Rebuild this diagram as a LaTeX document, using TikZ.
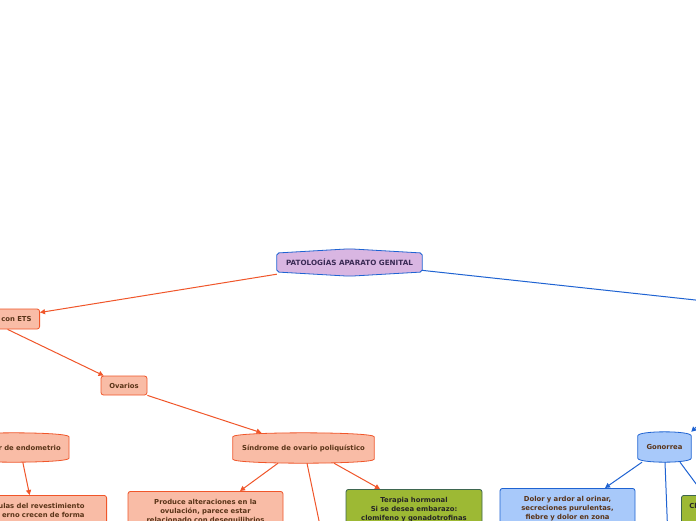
\documentclass[tikz,border=0pt]{standalone}
\usepackage{fontspec}
\setmainfont{DejaVu Sans}
\usetikzlibrary{arrows.meta,backgrounds}
\definecolor{oline}{HTML}{F0562A}
\definecolor{ofill}{HTML}{F9BCA6}
\definecolor{otext}{HTML}{5A3418}
\definecolor{bline}{HTML}{1F63D2}
\definecolor{bfill}{HTML}{A8C9FA}
\definecolor{gfill}{HTML}{9DB934}
\definecolor{gline}{HTML}{3E6650}
\definecolor{pfill}{HTML}{D9B6E2}
\definecolor{ptext}{HTML}{3A2A55}
\newcommand\drumpath[2]{%
\begin{scope}[on background layer]
\draw[#2] ([yshift=-4pt]#1.north west) .. controls ([yshift=1.3pt]#1.north west) and ([yshift=1.3pt]#1.north east) .. ([yshift=-4pt]#1.north east)
 -- ([yshift=4pt]#1.south east) .. controls ([yshift=-1.3pt]#1.south east) and ([yshift=-1.3pt]#1.south west) .. ([yshift=4pt]#1.south west) -- cycle;
\end{scope}}
\begin{document}
\begin{tikzpicture}[x=1pt,y=-1pt,
  font=\fontsize{6.85}{9}\selectfont\bfseries,
  every node/.style={inner sep=0pt},
  obox/.style={draw=oline, fill=ofill, rounded corners=2.5pt, line width=0.8pt, text=otext},
  bbox/.style={draw=bline, fill=bfill, rounded corners=2.5pt, line width=0.8pt, text=otext},
  gbox/.style={draw=gline, fill=gfill, rounded corners=2.5pt, line width=0.8pt, text=black!85},
  multi/.style={inner ysep=7.5pt, align=center, text depth=25pt},
  odrum/.style={draw=oline, fill=ofill, line width=0.8pt},
  bdrum/.style={draw=bline, fill=bfill, line width=0.8pt},
  oarr/.style={draw=oline, line width=1pt, -{Triangle[length=5pt,width=5pt]}},
  barr/.style={draw=bline, line width=1pt, -{Triangle[length=5pt,width=5pt]}}]
\useasboundingbox (0,0) rectangle (696,520);
\clip (0,0) rectangle (696,520);
\begin{scope}[on background layer]
\fill[white] (0,0) rectangle (696,520);
\end{scope}

% root
\node[minimum width=145pt, minimum height=27pt, text=ptext, font=\fontsize{7.2}{9}\selectfont\bfseries] (root) at (349.5,262.5) {PATOLOGÍAS APARATO GENITAL};
\begin{scope}[on background layer]
\draw[draw=bline, fill=pfill, line width=0.8pt, rounded corners=2pt]
 (root.west |- 0,253) -- (root.north) -- (root.east |- 0,253) -- (root.east |- 0,272) -- (root.south) -- (root.west |- 0,272) -- cycle;
\end{scope}

% left branch
\node[obox, anchor=east, minimum width=80pt, minimum height=20pt, inner xsep=8pt, text width=64pt, align=right] (ets) at (40,319) {con ETS};
\node[obox, minimum width=46pt, minimum height=19pt] (ov) at (124,385.5) {Ovarios};
\node[minimum width=110pt, minimum height=29pt, anchor=east, inner xsep=8pt, text width=94pt, align=right, text=otext] (endo) at (69,447.5) {r de endometrio};
\drumpath{endo}{odrum}
\node[obox, anchor=north east, minimum width=167pt, inner xsep=22pt, text width=123pt, inner ysep=7.5pt, align=right, text depth=25pt] (rev) at (107,495) {ulas del revestimiento\\erno crecen de forma};
\node[minimum width=141pt, minimum height=30pt, text=otext] (sin) at (303.5,448) {Síndrome de ovario poliquístico};
\drumpath{sin}{odrum}
\node[obox, multi, anchor=north, minimum width=155pt, text width=145pt] (prod) at (205.5,491) {Produce alteraciones en la\\ovulación, parece estar\\relacionado con desequilibrios};
\node[gbox, multi, anchor=north, minimum width=136pt, text width=130pt] (ter) at (414,489) {Terapia hormonal\\Si se desea embarazo:\\clomifeno y gonadotrofinas};
\coordinate (sdown) at (323,540);

% right branch
\coordinate (rt) at (760,307);
\coordinate (gin) at (725,400);
\node[minimum width=53pt, minimum height=30pt, text=otext] (gon) at (664.5,447) {Gonorrea};
\drumpath{gon}{bdrum}
\node[bbox, multi, anchor=north, minimum width=135pt, text width=128pt] (dol) at (567.5,488) {Dolor y ardor al orinar,\\secreciones purulentas,\\fiebre y dolor en zona};
\node[gbox, anchor=north west, minimum width=100pt, inner xsep=8pt, inner ysep=7.5pt, text width=84pt, align=left, text depth=25pt] (cl) at (681,495) {Cl};
\coordinate (gdown) at (668,540);

% connectors
\draw[oarr] (root) -- (ets);
\draw[oarr] ([xshift=8pt]ets.south) -- ([xshift=3pt]ov.north west);
\draw[oarr] (ov.south east) -- ([xshift=-42pt]sin.north);
\draw[oarr] ([xshift=9pt]endo.south) -- ([xshift=6.5pt]rev.north);
\draw[oarr] ([xshift=-25.5pt]sin.south) -- ([xshift=34.5pt]prod.north);
\draw[oarr] ([xshift=3.5pt]sin.south) -- (sdown);
\draw[oarr] ([xshift=30.5pt]sin.south) -- ([xshift=-34pt]ter.north);
\draw[barr] (root) -- (rt);
\draw[barr] (gin) -- (gon.north east);
\draw[barr] ([xshift=-22.5pt]gon.south) -- ([xshift=37.5pt]dol.north);
\draw[barr] ([xshift=0.5pt]gon.south) -- (gdown);
\draw[barr] ([xshift=15.5pt]gon.south) -- ([xshift=-27pt]cl.north);
\end{tikzpicture}
\end{document}
